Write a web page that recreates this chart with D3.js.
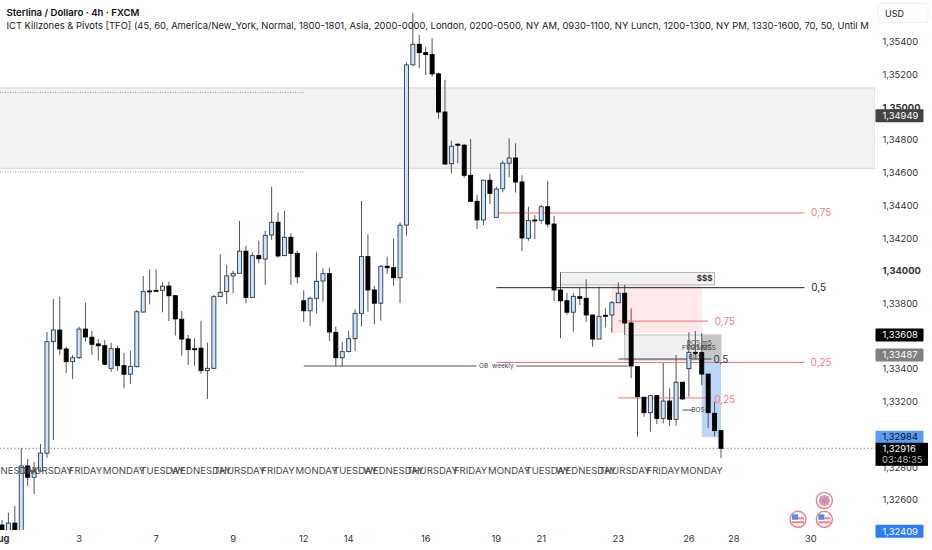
<!DOCTYPE html>
<html><head><meta charset="utf-8">
<script src="https://cdn.jsdelivr.net/npm/d3@7/dist/d3.min.js"></script>
<style>html,body{margin:0;padding:0;background:#fff;overflow:hidden}svg{display:block}text{font-family:Inter,Roboto,sans-serif}</style>
</head><body><svg id="c" width="932" height="550"></svg>
<script>
// Prices in 1e-5 units
const opensE5=[132447,132355,132459,132355,132808,132739,132777,132886,133568,133639,133523,133446,133470,133645,133595,133554,133543,133405,133525,133421,133369,133415,133749,133878,133882,133882,133908,133849,133705,133584,133525,133528,133391,133405,133843,133874,133970,133986,134121,133839,134094,134073,134220,134298,134094,134206,134108,133818,133757,133833,133939,133984,133625,133470,133507,133586,133741,134088,133884,133803,134029,134020,133959,134281,135260,135386,135335,135323,135205,134972,134656,134775,134769,134585,134426,134312,134555,134328,134503,134659,134691,134544,134200,134312,134310,134393,134287,133884,133818,133748,133843,133833,133731,133584,133729,133731,133806,133864,133682,133415,133228,133134,133238,133099,133205,133093,133320,133403,133503,133501,133370,133130,133024];
const highsE5=[132478,132522,132563,132918,132851,132832,132942,133627,133829,133843,133537,133487,133660,133806,133635,133584,133578,133562,133543,133499,133511,133762,133970,134010,134010,133931,133935,133853,133756,133609,133589,133696,133562,133853,134102,134037,134002,134306,134153,134114,134185,134245,134516,134357,134369,134231,134124,133882,133843,134114,134017,134020,133660,133568,133635,133766,134428,134224,133910,134037,134088,134198,134298,135276,135578,135443,135371,135423,135213,135168,134797,134781,134777,134807,134465,134555,134595,134516,134675,134811,134781,134585,134393,134342,134404,134550,134336,133992,133867,133864,133898,133949,133731,133904,133772,133817,133931,133915,133772,133419,133232,133242,133242,133439,133283,133487,133320,133625,133633,133621,133370,133201,133028];
const lowsE5=[132355,132325,132355,132325,132686,132637,132771,132859,132967,133487,133376,133340,133462,133568,133487,133452,133425,133384,133389,133283,133309,133411,133747,133797,133874,133747,133694,133605,133482,133425,133421,133372,133218,133401,133843,133797,133864,133986,133803,133839,134047,133915,134190,134081,134094,133915,133925,133690,133664,133741,133812,133572,133419,133419,133503,133511,133660,133751,133676,133696,133982,133908,133803,134216,135255,135239,135198,135188,134931,134651,134597,134659,134571,134422,134257,134281,134410,134328,134481,134573,134479,134122,134185,134194,134289,134267,133817,133589,133733,133629,133792,133690,133537,133584,133656,133623,133804,133609,133346,132987,133109,133018,133065,133069,133054,133054,133211,133232,133468,133303,133040,132987,132857];
const closesE5=[132386,132459,132386,132808,132739,132773,132887,133568,133639,133523,133446,133470,133645,133597,133552,133543,133430,133525,133421,133369,133417,133751,133874,133874,133876,133907,133849,133707,133584,133519,133519,133391,133405,133843,133870,133970,133986,134121,133839,134094,134075,134218,134298,134092,134206,134108,133965,133757,133833,133937,133984,133627,133470,133507,133586,133741,134088,133884,133803,134029,134020,133959,134280,135260,135386,135335,135323,135205,134972,134654,134763,134769,134585,134426,134312,134555,134475,134501,134659,134691,134544,134202,134308,134308,134393,134287,133884,133818,133748,133845,133833,133731,133584,133723,133723,133806,133864,133682,133419,133232,133134,133238,133099,133205,133093,133320,133218,133503,133497,133370,133134,133024,132916];
const opens=opensE5.map(v=>v/1e5),highs=highsE5.map(v=>v/1e5),lows=lowsE5.map(v=>v/1e5),closes=closesE5.map(v=>v/1e5);

const priceTicks=[1.354,1.352,1.35,1.348,1.346,1.344,1.342,1.34,1.338,1.334,1.332,1.328,1.326];
const boldTicks=[1.35,1.34];
const dateTicks=[["Aug",-0.3,true],["3",12],["7",24],["9",36],["12",47],["14",54],["16",66],["19",77],["21",84],["23",96],["26",107],["28",114],["30",126]];
const weekdays=["WEDNESDAY","THURSDAY","FRIDAY","MONDAY","TUESDAY","WEDNESDAY","THURSDAY","FRIDAY","MONDAY","TUESDAY","WEDNESDAY","THURSDAY","FRIDAY","MONDAY","TUESDAY","WEDNESDAY","THURSDAY","FRIDAY","MONDAY"];
const title="Sterlina / Dollaro · 4h · FXCM";
const indicator="ICT Killzones & Pivots [TFO] (45, 60, America/New_York, Normal, 1800-1801, Asia, 2000-0000, London, 0200-0500, NY AM, 0930-1100, NY Lunch, 1200-1300, NY PM, 1330-1600, 70, 50, Until M";
const badges=[[1.34949,"#434343","#fff"],[1.33608,"#000","#fff"],[1.33487,"#808080","#fff"],[1.32984,"#5b9cf6","#111"],[1.32409,"#2e7cf6","#fff"]];
const lastPrice=1.32916;
// zones: [price top, price bottom, idx from, idx to, fill, stroke]
const zones=[[1.35119,1.34628,-1,136,"#f2f2f2","#d3d3d3"],[1.33927,1.33621,95,109,"#fde9e9","none"],[1.33991,1.33915,87,111,"#f1f1f1","#b5b5b5"],[1.33609,1.33456,97,112,"#f0f0f0","#c4c4c4"],[1.33487,1.32984,109,112,"#bcd6f8","none"],[1.33609,1.33456,109,112,"#c6c6c6","none"]];
// lines: [price, idx from, idx to, colour, width]
const levels=[[1.34355,77,125,"#f2727a",1],[1.33898,77,125,"#222",1],[1.33441,77,125,"#f2727a",1],[1.33419,47,97.5,"#555",1],[1.33694,96,110,"#f2727a",1],[1.33462,96,110.5,"#444",1],[1.33224,96,110.5,"#f2727a",1],[1.3315,106,107.5,"#555",1]];
const dotted=[[1.35091,0,47],[1.34605,0,47]];
// labels: [text, price, idx, colour]
const levelLabels=[["0,75",1.34355,127.6,"#f77c80"],["0,5",1.33898,127.2,"#222"],["0,25",1.33441,127.6,"#f77c80"],["0,75",1.33694,112.6,"#f77c80"],["0,5",1.33462,112,"#333"],["0,25",1.33212,112.6,"#f77c80"]];
const bosLabels=[["BOS m5",1.3356,108.6],["FVG MSS",1.33528,108.2],["FMS MSS",1.33528,108.9],["BOS",1.33478,108],["BOS",1.3315,108.4]];

const W=875,B=530;
const x=d3.scaleLinear().domain([0,112]).range([2,721]);
const y=d3.scaleLinear().domain([1.326,1.354]).range([500,42]);
const svg=d3.select("#c");
svg.append("defs").append("clipPath").attr("id","pl").append("rect").attr("width",W).attr("height",B);
const g=svg.append("g").attr("clip-path","url(#pl)");

g.selectAll(".z").data(zones).join("rect").attr("x",d=>x(d[2])).attr("width",d=>x(d[3])-x(d[2]))
 .attr("y",d=>y(d[0])).attr("height",d=>y(d[1])-y(d[0])).attr("fill",d=>d[4]).attr("stroke",d=>d[5]);
g.selectAll(".d").data(dotted).join("line").attr("x1",d=>x(d[1])-2).attr("x2",d=>x(d[2]))
 .attr("y1",d=>y(d[0])).attr("y2",d=>y(d[0])).attr("stroke","#999").attr("stroke-dasharray","1 1.5");
g.append("line").attr("x1",0).attr("x2",W).attr("y1",y(lastPrice)).attr("y2",y(lastPrice)).attr("stroke","#777").attr("stroke-dasharray","1.2 2.4");

const idx=d3.range(opens.length);
g.selectAll(".w").data(idx).join("line").attr("x1",x).attr("x2",x).attr("y1",i=>y(highs[i])).attr("y2",i=>y(lows[i]))
 .attr("stroke","#555").attr("stroke-width",1);
g.selectAll(".lv").data(levels).join("line").attr("x1",d=>x(d[1])).attr("x2",d=>x(d[2]))
 .attr("y1",d=>y(d[0])).attr("y2",d=>y(d[0])).attr("stroke",d=>d[3]).attr("stroke-width",d=>d[4]);
g.selectAll(".b").data(idx).join("rect").attr("x",i=>x(i)-2).attr("width",4)
 .attr("y",i=>y(Math.max(opens[i],closes[i]))).attr("height",i=>Math.max(1,Math.abs(y(opens[i])-y(closes[i]))))
 .attr("fill",i=>closes[i]>=opens[i]?"#cfe4fb":"#000").attr("stroke",i=>closes[i]>=opens[i]?"#2b3a4a":"#000").attr("stroke-width",0.9);

// OB label
const ob=g.append("g");
ob.append("rect").attr("x",x(77)-20).attr("width",40).attr("y",y(1.33419)-3).attr("height",8).attr("fill","#fff");
ob.append("text").text("OB  weekly").attr("x",x(77)).attr("y",y(1.33419)).attr("dy","0.35em").attr("text-anchor","middle").attr("font-size",6.5).attr("fill","#444").attr("xml:space","preserve");
g.append("text").text("$$$").attr("x",x(111)-2).attr("y",y(1.33953)).attr("dy","0.35em").attr("text-anchor","end").attr("font-size",8).attr("font-weight",700).attr("fill","#333");
g.selectAll(".lab").data(levelLabels).join("text").text(d=>d[0]).attr("x",d=>x(d[2])).attr("y",d=>y(d[1])).attr("dy","0.35em")
 .attr("font-size",10).attr("text-anchor","middle").attr("fill",d=>d[3]);
g.selectAll(".bos").data(bosLabels).join("text").text(d=>d[0]).attr("x",d=>x(d[2])).attr("y",d=>y(d[1])).attr("dy","0.35em")
 .attr("font-size",6.5).attr("text-anchor","middle").attr("fill","#444");

g.selectAll(".wd").data(weekdays).join("text").text(d=>d).attr("x",(d,i)=>x(1+6*i)).attr("y",471).attr("dy","0.35em")
 .attr("text-anchor","middle").attr("font-size",9.6).attr("fill","#4a4a4a");

// headers
svg.append("text").text(title).attr("x",6.5).attr("y",16).attr("font-size",9.6).attr("font-weight",600).attr("fill","#111");
svg.append("text").text(indicator).attr("x",6.5).attr("y",29).attr("font-size",9.42).attr("fill","#222");
svg.append("rect").attr("x",W).attr("y",0).attr("width",57).attr("height",550).attr("fill","#fff");
svg.append("rect").attr("x",878).attr("y",3.5).attr("width",50).attr("height",19).attr("rx",3).attr("fill","#fff").attr("stroke","#efefef");
svg.append("text").text("USD").attr("x",885).attr("y",16.5).attr("font-size",9).attr("fill","#222");

// axes
const fmt=v=>v.toFixed(5).replace(".",",");
svg.selectAll(".pt").data(priceTicks).join("text").text(fmt).attr("x",882.5).attr("y",y).attr("dy","0.35em")
 .attr("font-size",9.4).attr("fill","#333").attr("font-weight",d=>boldTicks.includes(d)?700:400);
svg.selectAll(".dt").data(dateTicks).join("text").text(d=>d[0]).attr("x",d=>x(d[1])).attr("y",539).attr("dy","0.35em")
 .attr("text-anchor","middle").attr("font-size",9.4).attr("fill","#333").attr("font-weight",d=>d[2]?700:400);
svg.selectAll(".bd").data(badges).join("rect").attr("x",875.5).attr("width",48).attr("y",d=>y(d[0])-6.5).attr("height",13).attr("rx",1).attr("fill",d=>d[1]);
svg.selectAll(".bt").data(badges).join("text").text(d=>fmt(d[0])).attr("x",882.5).attr("y",d=>y(d[0])).attr("dy","0.35em")
 .attr("font-size",9.4).attr("fill",d=>d[2]);
svg.append("rect").attr("x",875.5).attr("width",52.5).attr("y",y(lastPrice)-5.5).attr("height",23).attr("fill","#000");
svg.append("text").text(fmt(lastPrice)).attr("x",882.5).attr("y",y(lastPrice)).attr("dy","0.35em").attr("font-size",9.4).attr("fill","#fff");
svg.append("text").text("03:48:35").attr("x",882).attr("y",y(lastPrice)+11.5).attr("dy","0.35em").attr("font-size",9.4).attr("fill","#bbb");

// event icons: [column idx, row price, country]
const events=[[128.1,1.32597,"GB"],[124,1.32482,"US"],[128.1,1.32482,"US"]];
const ev=svg.selectAll(".ev").data(events).join("g").attr("transform",d=>`translate(${x(d[0])},${y(d[1])})`);
ev.append("circle").attr("r",8).attr("fill","#fff").attr("stroke","#f77c80").attr("stroke-width",1.4);
ev.filter(d=>d[2]==="US").each(function(){const e=d3.select(this);
 e.append("rect").attr("x",-6).attr("y",-5).attr("width",6).attr("height",5.5).attr("fill","#4a90ee");
 e.append("rect").attr("x",0).attr("y",-2).attr("width",6).attr("height",2).attr("fill","#f77c80");
 e.append("rect").attr("x",-6).attr("y",2).attr("width",12).attr("height",2).attr("fill","#f77c80");});
ev.filter(d=>d[2]==="GB").each(function(){const e=d3.select(this);
 e.append("circle").attr("r",5.5).attr("fill","#9dbcec");
 e.append("path").attr("d","M-5 0H5M0-5V5M-4-4L4 4M-4 4L4-4").attr("stroke","#f77c80").attr("stroke-width",1.3);});
</script></body></html>
